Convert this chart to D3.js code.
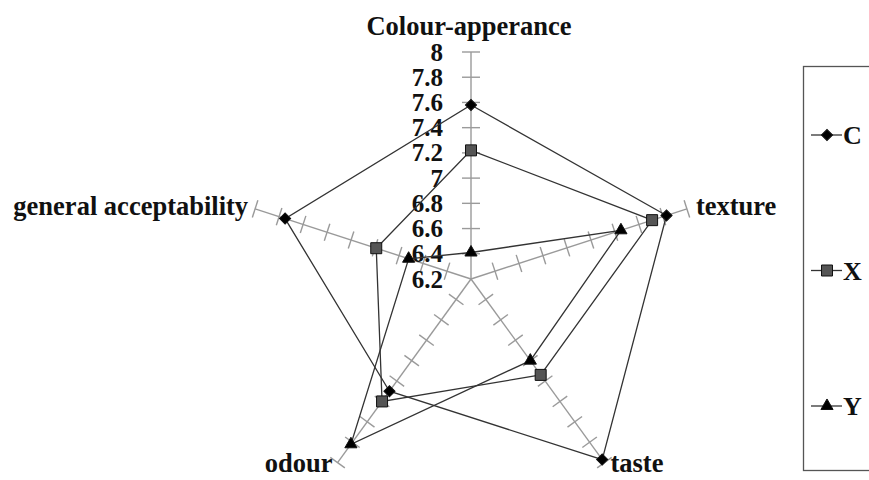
<!DOCTYPE html>
<html>
<head>
<meta charset="utf-8">
<script src="https://cdnjs.cloudflare.com/ajax/libs/d3/7.8.5/d3.min.js"></script>
</head>
<body style="margin:0;background:#fff">
<div id="chart"></div>
<script>
// radar chart data
var axes = ['Colour-apperance', 'texture', 'taste', 'odour', 'general acceptability'];
var seriesNames = ['C', 'X', 'Y'];
var valuesC = [7.58, 7.83, 7.97, 7.30, 7.75];
var valuesX = [7.22, 7.71, 7.14, 7.40, 6.99];
var valuesY = [6.41, 7.45, 7.00, 7.82, 6.72];
var tickValues = [6.2, 6.4, 6.6, 6.8, 7, 7.2, 7.4, 7.6, 7.8, 8];

var W = 869, H = 480;
var cx = 471, cy = 279, R = 227;
var FONT = '"Liberation Serif", "Times New Roman", serif';

var svg = d3.select('#chart').append('svg')
  .attr('width', W)
  .attr('height', H);

var r = d3.scaleLinear().domain([6.2, 8]).range([0, R]);
var angle = d3.scaleLinear().domain([0, axes.length]).range([0, 2 * Math.PI]);

var g = svg.append('g').attr('transform', 'translate(' + cx + ',' + cy + ')');

// axes with tick marks
var axisG = g.selectAll('.axis').data(axes).enter()
  .append('g')
  .attr('class', 'axis')
  .attr('transform', function(d, i) { return 'rotate(' + (angle(i) * 180 / Math.PI) + ')'; });

axisG.append('line')
  .attr('x1', 0).attr('y1', 0)
  .attr('x2', 0).attr('y2', -r(8))
  .style('stroke', '#9a9a9a')
  .style('stroke-width', 1.4);

axisG.selectAll('.tick').data(tickValues.slice(1)).enter()
  .append('line')
  .attr('x1', -9).attr('x2', 9)
  .attr('y1', function(d) { return -r(d); })
  .attr('y2', function(d) { return -r(d); })
  .style('stroke', '#9a9a9a')
  .style('stroke-width', 1.4);

// value labels along the top axis
g.selectAll('.vlabel').data(tickValues).enter()
  .append('text')
  .attr('class', 'vlabel')
  .attr('x', -28)
  .attr('y', function(d) { return -r(d); })
  .attr('dy', '0.34em')
  .attr('text-anchor', 'end')
  .style('font-family', FONT)
  .style('font-weight', 'bold')
  .style('font-size', '25px')
  .style('fill', '#111')
  .text(function(d) { return d3.format('~g')(d); });

// axis titles
var labelPos = [
  {dx: -2, dy: -17, anchor: 'middle'},
  {dx: 9, dy: 6, anchor: 'start'},
  {dx: 6, dy: 9, anchor: 'start'},
  {dx: -5, dy: 9, anchor: 'end'},
  {dx: -7, dy: 6, anchor: 'end'}
];
g.selectAll('.alabel').data(axes).enter()
  .append('text')
  .attr('class', 'alabel')
  .attr('x', function(d, i) { return d3.pointRadial(angle(i), r(8))[0] + labelPos[i].dx; })
  .attr('y', function(d, i) { return d3.pointRadial(angle(i), r(8))[1] + labelPos[i].dy; })
  .attr('text-anchor', function(d, i) { return labelPos[i].anchor; })
  .style('font-family', FONT)
  .style('font-weight', 'bold')
  .style('font-size', '26.5px')
  .style('fill', '#111')
  .text(function(d) { return d; });

// series
var series = [
  {name: seriesNames[0], values: valuesC, symbol: d3.symbolSquare, size: 62, rot: 45, fill: '#000'},
  {name: seriesNames[1], values: valuesX, symbol: d3.symbolSquare, size: 121, rot: 0, fill: '#555'},
  {name: seriesNames[2], values: valuesY, symbol: d3.symbolTriangle, size: 64, rot: 0, fill: '#000'}
];

var radial = d3.lineRadial()
  .angle(function(d, i) { return angle(i); })
  .radius(function(d) { return r(d); })
  .curve(d3.curveLinearClosed);

g.selectAll('.series').data(series).enter()
  .append('path')
  .attr('class', 'series')
  .attr('d', function(d) { return radial(d.values); })
  .style('fill', 'none')
  .style('stroke', '#333')
  .style('stroke-width', 1.3);

series.forEach(function(s) {
  g.selectAll('.mk-' + s.name).data(s.values).enter()
    .append('path')
    .attr('class', 'mk-' + s.name)
    .attr('d', d3.symbol().type(s.symbol).size(s.size))
    .attr('transform', function(d, i) {
      var p = d3.pointRadial(angle(i), r(d));
      return 'translate(' + p[0] + ',' + p[1] + ') rotate(' + s.rot + ')';
    })
    .style('fill', s.fill)
    .style('stroke', '#111')
    .style('stroke-width', 1);
});

// legend
var legend = svg.append('g');
legend.append('rect')
  .attr('x', 803.5).attr('y', 66.5)
  .attr('width', 90).attr('height', 404)
  .style('fill', '#fff')
  .style('stroke', '#555')
  .style('stroke-width', 1.3);

var legendY = d3.scalePoint().domain(seriesNames).range([135, 406]);
var item = legend.selectAll('.item').data(series).enter()
  .append('g')
  .attr('transform', function(d) { return 'translate(0,' + legendY(d.name) + ')'; });

item.append('line')
  .attr('x1', 811).attr('x2', 842)
  .style('stroke', '#333')
  .style('stroke-width', 1.3);
item.append('path')
  .attr('d', function(d) { return d3.symbol().type(d.symbol).size(d.size)(); })
  .attr('transform', function(d) { return 'translate(827,0) rotate(' + d.rot + ')'; })
  .style('fill', function(d) { return d.fill; })
  .style('stroke', '#111');
item.append('text')
  .attr('x', 843)
  .attr('dy', '0.35em')
  .style('font-family', FONT)
  .style('font-weight', 'bold')
  .style('font-size', '26px')
  .style('fill', '#111')
  .text(function(d) { return d.name; });
</script>
</body>
</html>
